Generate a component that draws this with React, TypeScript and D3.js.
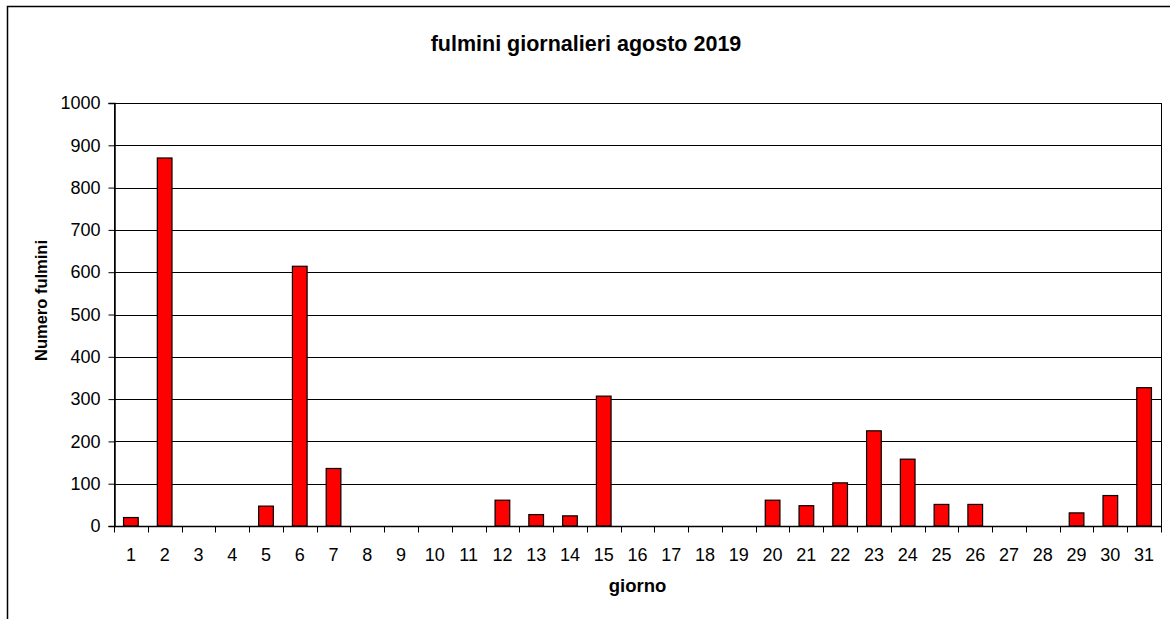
import { useRef, useEffect } from 'react';
import * as d3 from 'd3';

const days = d3.range(1, 32).map(String);
const strikes = [
  20, 870, 0, 0, 47, 614, 136, 0, 0, 0, 0, 61, 27, 24, 307, 0, 0, 0, 0, 61,
  48, 102, 225, 158, 51, 51, 0, 0, 31, 72, 327,
];
const yTicks = [0, 100, 200, 300, 400, 500, 600, 700, 800, 900, 1000];

const FONT = '"Liberation Sans", Arial, sans-serif';

export default function App() {
  const svgRef = useRef<SVGSVGElement>(null);

  useEffect(() => {
    if (!svgRef.current) return;
    const W = 1170;
    const H = 619;
    const margin = { top: 103, right: 9, bottom: 93, left: 114 };
    const width = W - margin.left - margin.right;
    const height = H - margin.top - margin.bottom;

    const root = d3.select(svgRef.current);
    root.selectAll('*').remove();

    // outer chart border (right and bottom edges fall outside the picture)
    root.append('rect')
      .attr('x', 7.5).attr('y', 6.5)
      .attr('width', W + 20).attr('height', H + 20)
      .attr('fill', '#fff').attr('stroke', '#000').attr('stroke-width', 1.5);

    root.append('text')
      .attr('x', 586).attr('y', 51)
      .attr('text-anchor', 'middle')
      .style('font-family', FONT).style('font-weight', 'bold').style('font-size', '21.5px')
      .text('fulmini giornalieri agosto 2019');

    const svg = root.append('g').attr('transform', `translate(${margin.left},${margin.top})`);

    const x = d3.scaleBand().domain(days).range([0, width]).paddingInner(0).paddingOuter(0);
    const y = d3.scaleLinear().domain([0, 1000]).range([height, 0]);

    // grid lines
    svg.append('g')
      .selectAll('line')
      .data(yTicks)
      .enter()
      .append('line')
      .attr('x1', 0).attr('x2', width)
      .attr('y1', d => Math.round(y(d)) + 0.5).attr('y2', d => Math.round(y(d)) + 0.5)
      .attr('stroke', '#000').attr('stroke-width', 1);

    // plot area frame (top/right)
    svg.append('rect')
      .attr('x', 0.5).attr('y', 0.5)
      .attr('width', width).attr('height', height)
      .attr('fill', 'none').attr('stroke', '#000').attr('stroke-width', 1);

    // bars: Excel style gap width 130%
    const barW = x.bandwidth() / 2.3;
    svg.selectAll('.bar')
      .data(strikes.map((v, i) => ({ day: days[i], v })).filter(d => d.v > 0))
      .enter()
      .append('rect')
      .attr('class', 'bar')
      .attr('x', d => (x(d.day) || 0) + (x.bandwidth() - barW) / 2)
      .attr('width', barW)
      .attr('y', d => y(d.v))
      .attr('height', d => height - y(d.v))
      .attr('fill', '#ff0000')
      .attr('stroke', '#000')
      .attr('stroke-width', 1.2);

    // y axis
    const yAxis = svg.append('g')
      .attr('transform', 'translate(0.5,0)')
      .call(d3.axisLeft(y).tickValues(yTicks).tickSize(6).tickPadding(8).tickFormat(d3.format('d')));
    yAxis.select('.domain').attr('stroke', '#000').attr('stroke-width', 1.5);
    yAxis.selectAll('text')
      .style('font-family', FONT).style('font-size', '18px').attr('fill', '#000');

    // x axis: ticks at category boundaries
    const xAxisG = svg.append('g').attr('transform', `translate(0,${Math.round(height) + 0.5})`);
    xAxisG.append('line')
      .attr('x1', 0).attr('x2', width)
      .attr('stroke', '#000').attr('stroke-width', 1.5);
    const bounds = d3.range(0, days.length + 1).map(i => i * x.step());
    xAxisG.selectAll('.tk')
      .data(bounds)
      .enter()
      .append('line')
      .attr('x1', d => Math.round(d) + 0.5).attr('x2', d => Math.round(d) + 0.5)
      .attr('y1', 0).attr('y2', 6)
      .attr('stroke', '#000');
    xAxisG.selectAll('.lbl')
      .data(days)
      .enter()
      .append('text')
      .attr('x', d => (x(d) || 0) + x.bandwidth() / 2)
      .attr('y', 34)
      .attr('text-anchor', 'middle')
      .style('font-family', FONT).style('font-size', '18px')
      .text(d => d);

    svg.append('text')
      .attr('x', width / 2).attr('y', height + 66)
      .attr('text-anchor', 'middle')
      .style('font-family', FONT).style('font-weight', 'bold').style('font-size', '18.5px')
      .text('giorno');

    root.append('text')
      .attr('transform', 'translate(47,300.5) rotate(-90)')
      .attr('text-anchor', 'middle')
      .style('font-family', FONT).style('font-weight', 'bold').style('font-size', '16.5px')
      .text('Numero fulmini');
  }, []);

  return (
    <div style={{ position: 'fixed', left: 0, top: 0 }}>
      <svg ref={svgRef} width={1170} height={619} style={{ display: 'block' }}></svg>
    </div>
  );
}
